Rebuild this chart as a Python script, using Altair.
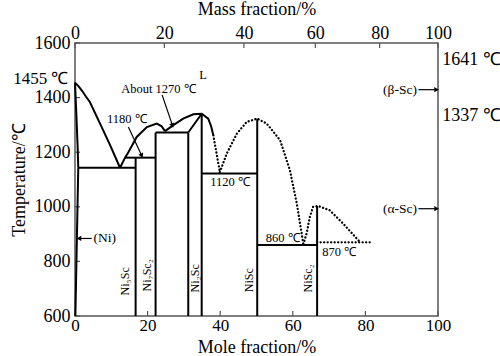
import math
import altair as alt
import pandas as pd

FONT = "Liberation Serif"
GRAY = "#555555"

# ---------------- axes ----------------
x_ticks = [0, 20, 40, 60, 80, 100]
y_ticks = [600, 800, 1000, 1200, 1400, 1600]
mass_ticks = [0, 20, 40, 60, 80, 100]
M_SC, M_NI = 44.956, 58.693


def mass_to_mole(w):
    a = w / M_SC
    b = (100 - w) / M_NI
    return 100 * a / (a + b)


mass_tick_pos = [mass_to_mole(w) for w in mass_ticks]

# ---------------- solid curves / lines ----------------
ni_liquidus_x = [0, 1.0, 2.0, 3.0, 4.1, 7.0, 9.7, 12.4]
ni_liquidus_y = [1455, 1441, 1424, 1404, 1384, 1302, 1225, 1143]
ni_solidus_x = [0, 0.4, 0.7, 0.9]
ni_solidus_y = [1455, 1330, 1230, 1143]
ni_solvus_x = [0.9, 0.1]
ni_solvus_y = [1143, 600]
ni7sc2_liq_x = [12.4, 13.8, 14.7, 17.0, 19.8, 22.5, 23.8, 24.8]
ni7sc2_liq_y = [1143, 1180, 1200, 1256, 1292, 1305, 1296, 1277]
ni2sc_liq_x = [24.8, 27.1, 29.8, 32.6, 34.9, 36.7, 37.5, 38.1]
ni2sc_liq_y = [1277, 1299, 1323, 1339, 1341, 1323, 1295, 1262]

straight_x = [
    [0.9, 16.7], [13.8, 22.2], [16.7, 16.7], [22.2, 22.2], [22.2, 31.2],
    [31.2, 31.2], [31.2, 34.9], [34.9, 34.9], [34.9, 50.2], [50.2, 50.2],
    [50.2, 66.7], [66.7, 66.7],
]
straight_y = [
    [1143, 1143], [1180, 1180], [600, 1180], [600, 1272], [1272, 1272],
    [600, 1272], [1272, 1341], [600, 1341], [1122, 1122], [600, 1323],
    [860, 860], [600, 1003],
]

# ---------------- dotted curves ----------------
dot1_x = [38.1, 39.0, 39.9]
dot1_y = [1262, 1195, 1127]
nisc_liq_x = [39.9, 41.8, 44.6, 47.3, 50.2, 52.8, 56.5, 59.2, 61.1, 62.0, 62.9]
nisc_liq_y = [1127, 1195, 1268, 1311, 1323, 1305, 1244, 1134, 1012, 938, 863]
nisc2_liq_x = [62.9, 63.8, 64.7, 65.6, 67.0, 70.2, 73.9, 78.5]
nisc2_liq_y = [863, 902, 963, 1000, 1003, 987, 938, 871]
line870_x = [66.7, 81.3]
line870_y = [870, 870]

# ---------------- arrows ----------------
arrow_x1 = [4.6, 94.6, 94.6, 14.7, 24.0]
arrow_y1 = [884, 1429, 993, 1292, 1410]
arrow_x2 = [1.3, 99.4, 99.4, 18.3, 26.8]
arrow_y2 = [884, 1429, 993, 1190, 1300]

# ---------------- texts ----------------
ann_text = ["1180 ℃", "About 1270 ℃", "L", "1120 ℃", "860 ℃", "870 ℃"]
ann_x = [14.3, 23.0, 35.3, 42.7, 57.2, 72.8]
ann_y = [1320, 1433, 1482, 1092, 885, 835]

phase_text = ["(Ni)"]
phase_x = [5.1]
phase_y = [884]
sc_text = ["(β-Sc)", "(α-Sc)"]
sc_x = [94.2, 94.2]
sc_y = [1429, 993]

right_text = ["1641 ℃", "1337 ℃"]
right_x = [101.2, 101.2]
right_y = [1539, 1331]
left_text = ["1455 ℃"]
left_x = [-1.8]
left_y = [1468]

comp_text = ["Ni₅Sc", "Ni₇Sc₂", "Ni₂Sc", "NiSc", "NiSc₂"]
comp_x = [13.8, 19.9, 33.1, 47.9, 64.3]
comp_y = [727, 749, 738, 731, 738]

# ---------------- build tables ----------------
rows = []
curves = [(ni_liquidus_x, ni_liquidus_y), (ni_solidus_x, ni_solidus_y),
          (ni_solvus_x, ni_solvus_y), (ni7sc2_liq_x, ni7sc2_liq_y),
          (ni2sc_liq_x, ni2sc_liq_y)] + list(zip(straight_x, straight_y))
for i, (xs_, ys_) in enumerate(curves):
    for j, (a, b) in enumerate(zip(xs_, ys_)):
        rows.append({"seg": f"s{i}", "o": j, "x": a, "y": b})
solid_df = pd.DataFrame(rows)

rows = []
for i, (xs_, ys_) in enumerate([(dot1_x, dot1_y), (nisc_liq_x, nisc_liq_y),
                                (nisc2_liq_x, nisc2_liq_y), (line870_x, line870_y)]):
    for j, (a, b) in enumerate(zip(xs_, ys_)):
        rows.append({"seg": f"d{i}", "o": j, "x": a, "y": b})
dot_df = pd.DataFrame(rows)

W, H = 363, 273
PXX, PXY = W / 100.0, H / 1000.0
arrow_df = pd.DataFrame({"x": arrow_x1, "y": arrow_y1, "x2": arrow_x2, "y2": arrow_y2})
arrow_df["ang"] = [
    math.degrees(math.atan2((b2 - b1) * PXX, (c2 - c1) * PXY)) % 360
    for b1, c1, b2, c2 in zip(arrow_x1, arrow_y1, arrow_x2, arrow_y2)
]

xs = alt.Scale(domain=[0, 100], nice=False, zero=False)
ys = alt.Scale(domain=[600, 1600], nice=False, zero=False)


def X(field="x"):
    return alt.X(f"{field}:Q", scale=xs, axis=None)


def Y(field="y"):
    return alt.Y(f"{field}:Q", scale=ys, axis=None)


solid = alt.Chart(solid_df).mark_line(color="black", strokeWidth=2).encode(
    x=X(), y=Y(), detail="seg:N", order="o:Q")
dotted = alt.Chart(dot_df).mark_line(color="black", strokeWidth=2.3, strokeDash=[0.1, 3.4],
                                     strokeCap="round").encode(
    x=X(), y=Y(), detail="seg:N", order="o:Q")

arrow_lines = alt.Chart(arrow_df).mark_rule(color="black", strokeWidth=1.2).encode(
    x=X(), y=Y(), x2="x2:Q", y2="y2:Q")
arrow_heads = alt.Chart(arrow_df).mark_point(shape="triangle", filled=True, color="black",
                                             size=28, opacity=1).encode(
    x=X("x2"), y=Y("y2"), angle=alt.Angle("ang:Q", scale=None))

axis_common = dict(tickSize=0, domain=False, grid=False, labelFont=FONT,
                   labelColor="black", labelFlush=False, labelOverlap=False,
                   titleFont=FONT, titleFontWeight="normal", titleColor="black")

bottom_ticks = alt.Chart(pd.DataFrame({"x": x_ticks})).mark_rule(color=GRAY, strokeWidth=1.2).encode(
    x=alt.X("x:Q", scale=xs, axis=alt.Axis(
        orient="bottom", values=x_ticks, title="Mole fraction/%", labelPadding=1,
        labelFontSize=17, titleFontSize=18, titleY=36, titleBaseline="alphabetic",
        format="d", **axis_common)),
    y=alt.value(H), y2=alt.value(H - 5))

top_ticks = alt.Chart(pd.DataFrame({"x": mass_tick_pos})).mark_rule(color=GRAY, strokeWidth=1.2).encode(
    x=alt.X("x:Q", scale=xs, axis=alt.Axis(
        orient="top", values=mass_tick_pos, title="Mass fraction/%",
        labelExpr="format(100*datum.value*44.956/(datum.value*44.956+(100-datum.value)*58.693), '.0f')",
        labelPadding=1, titlePadding=6, labelFontSize=18, titleFontSize=18, **axis_common)),
    y=alt.value(0), y2=alt.value(5))

left_ticks = alt.Chart(pd.DataFrame({"y": y_ticks})).mark_rule(color=GRAY, strokeWidth=1.2).encode(
    y=alt.Y("y:Q", scale=ys, axis=alt.Axis(
        orient="left", values=y_ticks, title="Temperature/℃", labelPadding=5,
        titlePadding=6, format="d", labelFontSize=18, titleFontSize=18, **axis_common)),
    x=alt.value(0), x2=alt.value(5))


def texts(xv, yv, tv, **mk):
    df = pd.DataFrame({"x": xv, "y": yv, "t": tv})
    return alt.Chart(df).mark_text(font=FONT, color="black", baseline="middle", **mk).encode(
        x=X(), y=Y(), text="t:N")


ann = texts(ann_x, ann_y, ann_text, fontSize=12.5, align="center")
ni_lab = texts(phase_x, phase_y, phase_text, fontSize=13.5, align="left")
sc_lab = texts(sc_x, sc_y, sc_text, fontSize=13.5, align="right")
right_lab = texts(right_x, right_y, right_text, fontSize=18, align="left")
left_lab = texts(left_x, left_y, left_text, fontSize=17, align="right")
comp_lab = texts(comp_x, comp_y, comp_text, fontSize=12, align="center", angle=270)

chart = alt.layer(
    bottom_ticks, top_ticks, left_ticks, solid, dotted, arrow_lines, arrow_heads,
    ann, ni_lab, sc_lab, right_lab, left_lab, comp_lab,
).resolve_axis(x="independent", y="independent").properties(
    width=W, height=H,
    autosize=alt.AutoSizeParams(type="none"),
    padding={"left": 75, "top": 43, "right": 500 - 75 - W, "bottom": 356 - 43 - H},
).configure(background="white").configure_view(stroke=GRAY, strokeWidth=1.5)

chart.save("out.html", embed_options={"renderer": "svg", "actions": False})
